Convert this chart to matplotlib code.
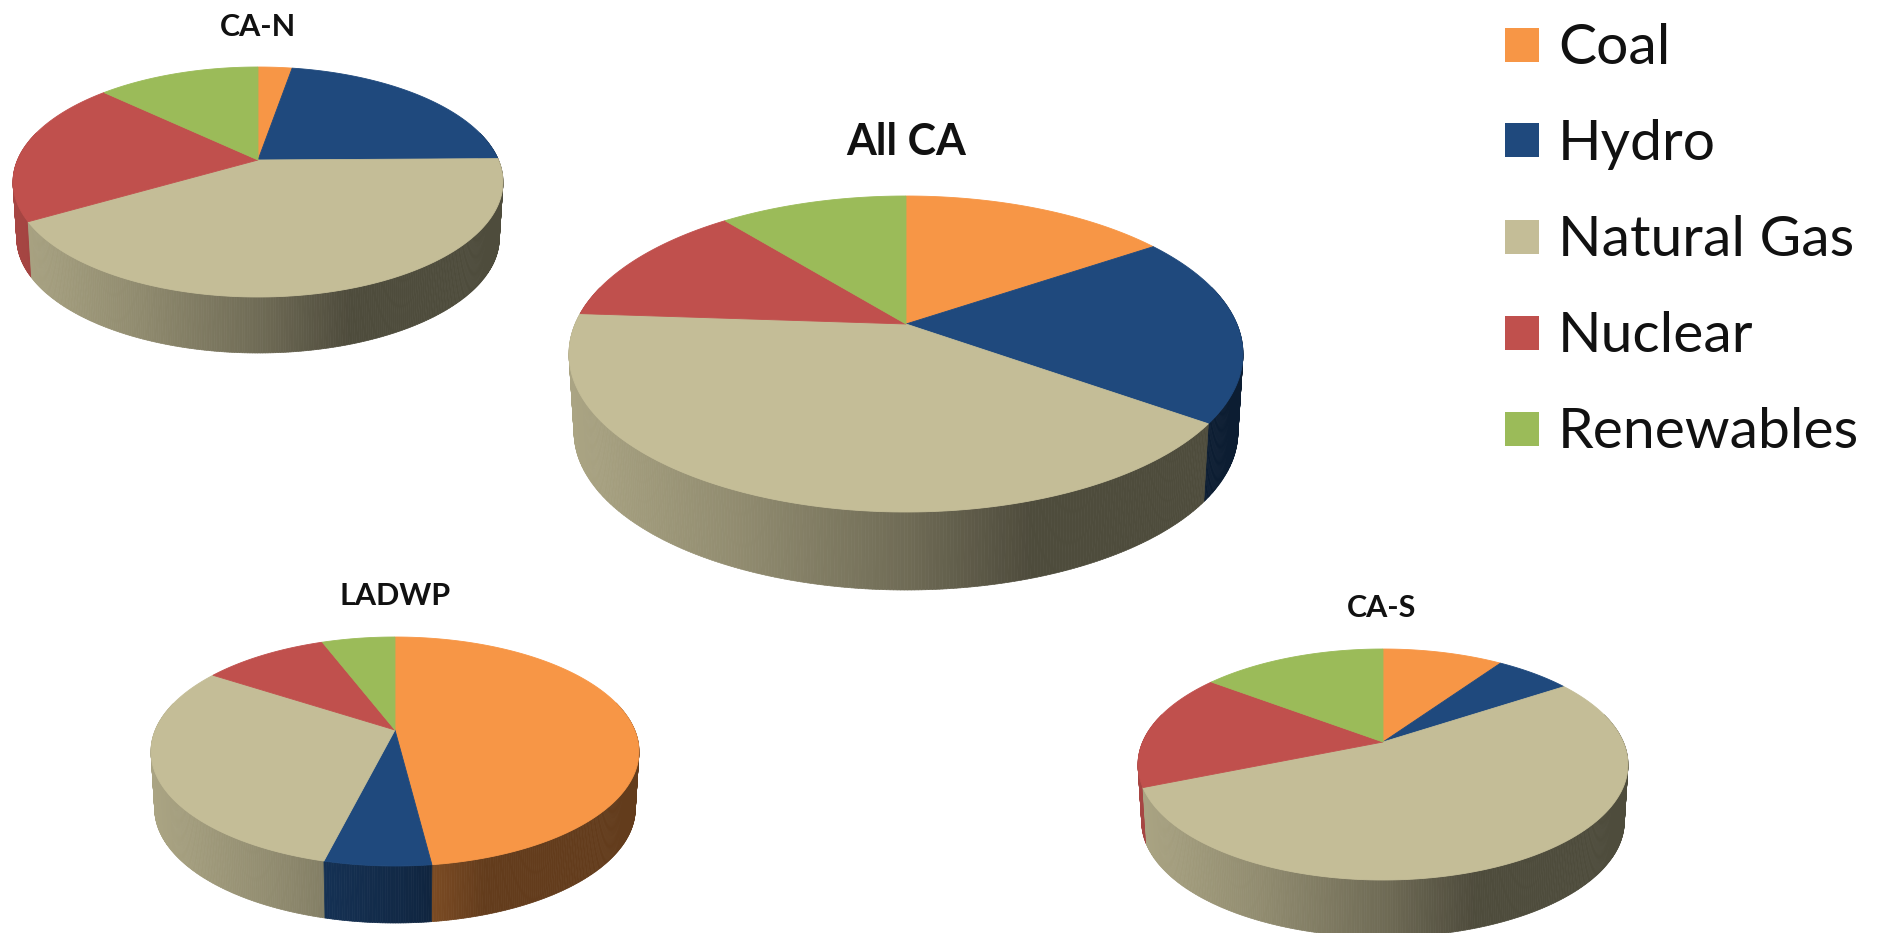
import numpy as np
import matplotlib
matplotlib.use("Agg")
import matplotlib.pyplot as plt
from matplotlib.collections import PolyCollection
from matplotlib.patches import Rectangle
from matplotlib.path import Path
from matplotlib.transforms import Affine2D, Transform

sources = ["Coal", "Hydro", "Natural Gas", "Nuclear", "Renewables"]
all_ca = [15.5, 19.4, 41.2, 13.1, 10.8]
ca_n = [2.7, 22.1, 41.8, 20.5, 12.9]
ladwp = [48.0, 5.9, 30.3, 10.0, 5.8]
ca_s = [9.6, 6.1, 53.1, 16.5, 14.7]

colors = ["#F79646", "#1F497D", "#C4BD97", "#C0504D", "#9BBB59"]
W, H = 1881, 933
plt.rcParams["font.family"] = ["Lato", "DejaVu Sans"]


class Projective(Transform):
    """Unit disc to the tilted, perspective top face of a pie, in pixels from its apex."""
    input_dims = output_dims = 2
    is_separable = False
    has_inverse = False

    def __init__(self, a, b, k):
        super().__init__()
        self.a, self.b, self.k = a, b, k

    def transform_non_affine(self, xy):
        xy = np.asarray(xy, float)
        w = 1 + self.k * xy[:, 1]
        return np.column_stack([self.a * xy[:, 0] / w, self.b * xy[:, 1] / w])

    def transform_path_non_affine(self, path):
        big = Affine2D().scale(2000).transform_path(path)
        poly = big.to_polygons(closed_only=True)[0] / 2000
        return Path(self.transform_non_affine(poly))


def shade(u):
    return np.interp(u, [-1, -0.5, 0, 0.37, 1], [0.87, 0.74, 0.57, 0.40, 0.40])


fig = plt.figure(figsize=(W / 100, H / 100), dpi=100, facecolor="white")


def pie3d(values, apex, rx, up, down, depth, taper=0.985):
    cx, cy = apex
    k = (down - up) / (down + up)
    b = up * (1 + k)
    a = rx * np.sqrt(1 - k * k)
    proj = Projective(a, b, k)
    m = 12
    left, right = -rx - m, rx + m
    bottom, top = -(down + depth + m), up + m
    ax = fig.add_axes([(cx + left) / W, 1 - (cy - bottom) / H,
                       (right - left) / W, (top - bottom) / H])
    wedges, _ = ax.pie(values, colors=colors, startangle=90, counterclock=False, radius=1,
                       wedgeprops=dict(linewidth=0.6))
    ax.set_aspect("auto")
    ax.set_xlim(left, right)
    ax.set_ylim(bottom, top)
    ax.axis("off")

    # side wall, from the slice angles
    edges = np.cumsum([0] + list(values)) / np.sum(values) * 360
    polys, cols = [], []
    for i, c in enumerate(colors):
        n = max(2, int((edges[i + 1] - edges[i]) / 0.5))
        t = np.radians(np.linspace(edges[i], edges[i + 1], n + 1))
        xy = proj.transform_non_affine(np.column_stack([np.sin(t), np.cos(t)]))
        base = np.array(matplotlib.colors.to_rgb(c))
        for j in range(n):
            if np.cos(t[j]) > 0.25 and np.cos(t[j + 1]) > 0.25:
                continue
            p0, p1 = xy[j], xy[j + 1]
            polys.append([p0, p1, (p1[0] * taper, p1[1] - depth), (p0[0] * taper, p0[1] - depth)])
            cols.append(base * shade((p0[0] + p1[0]) / 2 / rx))
    order = np.argsort([-(p[0][1]) for p in polys])
    wall = PolyCollection([polys[i] for i in order], facecolors=[cols[i] for i in order],
                          edgecolors=[cols[i] for i in order], linewidths=0.5, zorder=1)
    ax.add_collection(wall)
    for w, c in zip(wedges, colors):
        w.set_transform(proj + ax.transData)
        w.set_edgecolor(c)
        w.set_zorder(2)
    return ax


pie3d(all_ca, (906, 324), 337, 128, 188, 78)
pie3d(ca_n, (258, 160), 245, 93, 137, 56)
pie3d(ladwp, (395, 730), 244, 93, 136, 57)
pie3d(ca_s, (1383, 742), 245, 93, 138, 57)

ov = fig.add_axes([0, 0, 1, 1])
ov.set_xlim(0, W)
ov.set_ylim(H, 0)
ov.axis("off")
ov.patch.set_alpha(0)

titles = [("All CA", 906, 142, 31), ("CA-N", 258, 27, 22), ("LADWP", 395, 596, 22), ("CA-S", 1382, 608, 22)]
for s, x, y, fs in titles:
    ov.text(x, y, s, ha="center", va="center", fontsize=fs, fontweight="bold", color="#111111")

ys = [45, 140, 237, 333, 429]
for s, c, y in zip(sources, colors, ys):
    ov.add_patch(Rectangle((1505, y - 17), 34, 34, facecolor=c, edgecolor="none"))
    ov.text(1558, y - 1, s, ha="left", va="center_baseline", fontsize=41, color="#111111")

fig.savefig("out.png", dpi=100)
